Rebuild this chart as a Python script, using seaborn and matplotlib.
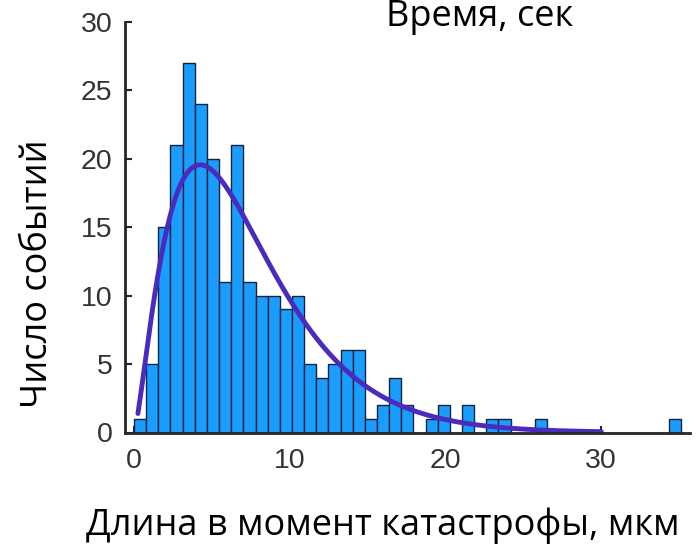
import math
import numpy as np
import pandas as pd
import matplotlib
matplotlib.use("Agg")
import matplotlib.pyplot as plt
import seaborn as sns

# histogram counts, 45 equal bins
counts = [1, 5, 15, 21, 27, 24, 20, 11, 21, 11,
          10, 10, 9, 10, 5, 4, 5, 6, 6, 1,
          2, 4, 2, 0, 1, 2, 0, 2, 0, 1,
          1, 0, 0, 1, 0, 0, 0, 0, 0, 0,
          0, 0, 0, 0, 1]
bin_lo, bin_hi = 0.0, 35.1

# gamma fit drawn over the histogram
fit_shape, fit_scale = 2.4, 3.03
fit_from, fit_to = 0.25, 30.0

x_ticks = [0, 10, 20, 30]
y_ticks = [0, 5, 10, 15, 20, 25, 30]

nbins = len(counts)
width = (bin_hi - bin_lo) / nbins
centers = bin_lo + width * (np.arange(nbins) + 0.5)
df = pd.DataFrame({"len": centers, "n": counts})

xs = np.linspace(fit_from, fit_to, 300)
pdf = xs ** (fit_shape - 1) * np.exp(-xs / fit_scale) / (math.gamma(fit_shape) * fit_scale ** fit_shape)
fit = pd.DataFrame({"x": xs, "y": pdf * sum(counts) * width})

sns.set_style("ticks")
plt.rcParams["font.family"] = ["Liberation Sans", "DejaVu Sans"]

fig = plt.figure(figsize=(6.97, 5.49), dpi=100)
ax = fig.add_axes([125 / 697, 1 - 432.5 / 549, 565 / 697, 410.5 / 549])

sns.histplot(df, x="len", weights="n", bins=nbins, binrange=(bin_lo, bin_hi),
             color="#1a9dff", alpha=1, edgecolor="#10233a", linewidth=1, ax=ax)
sns.lineplot(fit, x="x", y="y", color="#4a2bbd", linewidth=3.5, ax=ax)

ax.set_xlim(-0.58, 35.7)
ax.set_ylim(0, 30)
ax.set_xticks(x_ticks)
ax.set_yticks(y_ticks)
ax.tick_params(direction="in", length=5, width=1.5, labelsize=20.5,
               colors="#262626", labelcolor="#333333")
ax.tick_params(axis="x", pad=11)
ax.tick_params(axis="y", pad=9)
for s in ["top", "right"]:
    ax.spines[s].set_visible(False)
for s in ["left", "bottom"]:
    ax.spines[s].set_linewidth(2)
    ax.spines[s].set_color("#262626")

lab_font = ["Open Sans", "DejaVu Sans"]
ax.set_xlabel("")
ax.set_ylabel("")
fig.text(383 / 697, 1 - 535 / 549, "Длина в момент катастрофы, мкм", ha="center",
         va="baseline", fontsize=26, family=lab_font, color="black")
fig.text(38 / 697, 1 - 274 / 549, "Число событий", ha="center", va="center",
         rotation=90, fontsize=26, family=lab_font, color="black")
fig.text(480 / 697, 1 - 26 / 549, "Время, сек", ha="center", va="baseline",
         fontsize=26, family=lab_font, color="black")

fig.savefig("out.png", dpi=100)
